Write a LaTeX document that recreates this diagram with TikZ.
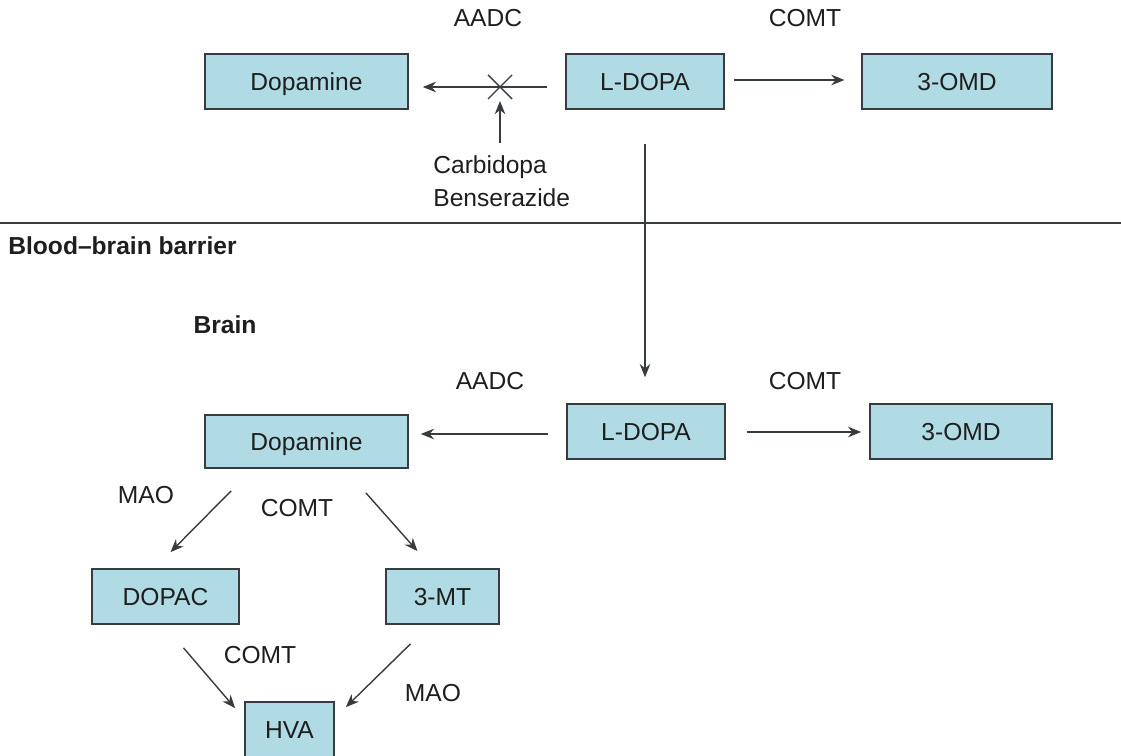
\documentclass[tikz,border=0pt]{standalone}
\usepackage{fontspec}
\setmainfont{Liberation Sans}
\usetikzlibrary{arrows.meta,calc}
\definecolor{boxfill}{RGB}{176,219,229}
\definecolor{edgecol}{RGB}{55,60,65}
\definecolor{txt}{RGB}{30,30,30}
\begin{document}
\begin{tikzpicture}[x=0.02cm,y=-0.02cm,
  box/.style={draw=edgecol, line width=1pt, fill=boxfill, inner sep=0pt,
    text=txt, font=\fontsize{14}{17}\selectfont, text height=10pt, text depth=0pt},
  lbl/.style={inner sep=0pt, text=txt, font=\fontsize{14}{17}\selectfont},
  arr/.style={draw=edgecol, line width=0.8pt, -{Stealth[length=7.5pt,width=6pt]}}
]
\useasboundingbox (0,0) rectangle (1121,756);
\clip (0,0) rectangle (1121,756);

% top row (periphery)
\node[box, minimum width=4.06cm, minimum height=1.1cm] (Dop1) at (306.5,81.5) {Dopamine};
\node[box, minimum width=3.16cm, minimum height=1.1cm] (LD1) at (645,81.5) {L-DOPA};
\node[box, minimum width=3.80cm, minimum height=1.1cm] (OMD1) at (957,81.5) {3-OMD};
\node[lbl] (aadc1) at (488,18) {AADC};
\node[lbl] (comt1) at (805,18) {COMT};
\node[lbl, align=left, anchor=west] (cb) at (433,181) {Carbidopa\\[2pt]Benserazide};

\draw[arr, shorten <=18pt*0.567, shorten >=14pt*0.567] ([yshift=-0.11cm]LD1.west) -- ([yshift=-0.11cm]LD1.west -| Dop1.east);
\coordinate (X) at (500,87);
\draw[draw=edgecol, line width=0.8pt] ($(X)+(-12,-12)$) -- ($(X)+(12,12)$)
  ($(X)+(-12,12)$) -- ($(X)+(12,-12)$);
\draw[arr, shorten <=7pt, shorten >=8pt] (cb.north -| X) -- (X);
\draw[arr, shorten <=5pt, shorten >=9.5pt] ([yshift=0.03cm]LD1.east) -- ([yshift=0.03cm]LD1.east -| OMD1.west);

% barrier
\coordinate (bl) at (0,223);
\coordinate (br) at (1121,223);
\draw[draw=edgecol, line width=0.7pt] (bl) -- (br);
\node[lbl, anchor=west, font=\fontsize{14}{17}\selectfont\bfseries] (bbb) at (8,246) {Blood--brain barrier};
\node[lbl, font=\fontsize{14}{17}\selectfont\bfseries] (brain) at (225,325) {Brain};

% bottom row (brain)
\node[box, minimum width=4.06cm, minimum height=1.06cm] (Dop2) at (306.5,441.5) {Dopamine};
\node[box, minimum width=3.16cm, minimum height=1.1cm] (LD2) at (646,431.5) {L-DOPA};
\node[box, minimum width=3.64cm, minimum height=1.1cm] (OMD2) at (961,431.5) {3-OMD};
\node[lbl] (aadc2) at (490,381) {AADC};
\node[lbl] (comt2) at (805,381) {COMT};

\draw[arr, shorten <=34pt*0.567, shorten >=26pt*0.567] (LD1.south) -- (LD1.south |- LD2.north);
\draw[arr, shorten <=18pt*0.567, shorten >=12pt*0.567] ([yshift=-0.05cm]LD2.west) -- ([yshift=-0.05cm]LD2.west -| Dop2.east);
\draw[arr, shorten <=21pt*0.567, shorten >=8pt*0.567] ([yshift=-0.01cm]LD2.east) -- ([yshift=-0.01cm]LD2.east -| OMD2.west);

% metabolites
\node[box, minimum width=2.94cm, minimum height=1.1cm] (DOPAC) at (165.5,596.5) {DOPAC};
\node[box, minimum width=2.26cm, minimum height=1.1cm] (MT) at (442.5,596.5) {3-MT};
\node[box, minimum width=1.78cm, minimum height=1.1cm] (HVA) at (289.5,729.5) {HVA};
\node[lbl] (mao1) at (146,495) {MAO};
\node[lbl] (comt3) at (297,508) {COMT};
\node[lbl] (comt4) at (260,655) {COMT};
\node[lbl] (mao2) at (433,693) {MAO};

\draw[arr] ($(Dop2.south west)+(27,22)$) -- ($(DOPAC.north)+(5,-16)$);
\draw[arr] ($(Dop2.south east)+(-43,24)$) -- ($(MT.north)+(-25,-17)$);
\draw[arr] ($(DOPAC.south)+(18,23)$) -- ($(HVA.north west)+(-9,7)$);
\draw[arr] ($(MT.south)+(-32,19)$) -- ($(HVA.north east)+(11,6)$);
\end{tikzpicture}
\end{document}
